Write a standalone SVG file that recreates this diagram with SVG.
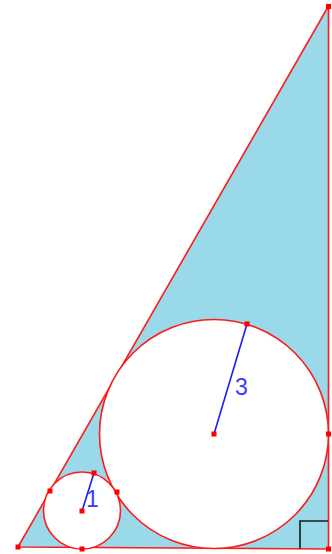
<svg xmlns="http://www.w3.org/2000/svg" width="332" height="554" viewBox="0 0 332 554">
<style>
.edge{fill:none;stroke:#ff1a1a;stroke-width:1.6}
.circ{fill:#ffffff;stroke:#ff1a1a;stroke-width:1.6}
.rad{stroke:#1a1aff;stroke-width:1.6}
.pt{fill:#ff0000}
.lbl{font-family:"Liberation Sans",Arial,sans-serif;font-size:23px;fill:#3a3aff}
</style>
<rect width="332" height="554" fill="#ffffff"/>
<g id="triangle">
<polygon points="18,547 328.5,549 328.5,6" fill="#99d9ea" stroke="none"/>
<polygon points="18,547 328.5,549 328.5,6" class="edge"/>
<path d="M300,548.5 V521 H328" fill="none" stroke="#1a1a1a" stroke-width="1.6"/>
</g>
<g id="circle3">
<circle cx="214" cy="434" r="114.5" class="circ"/>
</g>
<g id="circle1">
<circle cx="82" cy="510.5" r="38.5" class="circ"/>
</g>
<g id="connectors">
<line x1="214" y1="434" x2="247" y2="324" class="rad"/>
<line x1="82" y1="511" x2="94" y2="473" class="rad"/>
</g>
<g id="labels">
<text x="235" y="395" class="lbl">3</text>
<text x="86" y="507" class="lbl">1</text>
</g>
<g id="points">
<rect x="15.5" y="544.5" width="5" height="5" class="pt"/>
<rect x="326" y="546.5" width="5" height="5" class="pt"/>
<rect x="326" y="4" width="5" height="5" class="pt"/>
<rect x="211.5" y="431.5" width="5" height="5" class="pt"/>
<rect x="244.5" y="321.5" width="5" height="5" class="pt"/>
<rect x="326" y="431.5" width="5" height="5" class="pt"/>
<rect x="79.5" y="508.5" width="5" height="5" class="pt"/>
<rect x="91.5" y="470.5" width="5" height="5" class="pt"/>
<rect x="47.5" y="488.5" width="5" height="5" class="pt"/>
<rect x="114.5" y="489.5" width="5" height="5" class="pt"/>
<rect x="79.5" y="546.5" width="5" height="5" class="pt"/>
</g>
</svg>
